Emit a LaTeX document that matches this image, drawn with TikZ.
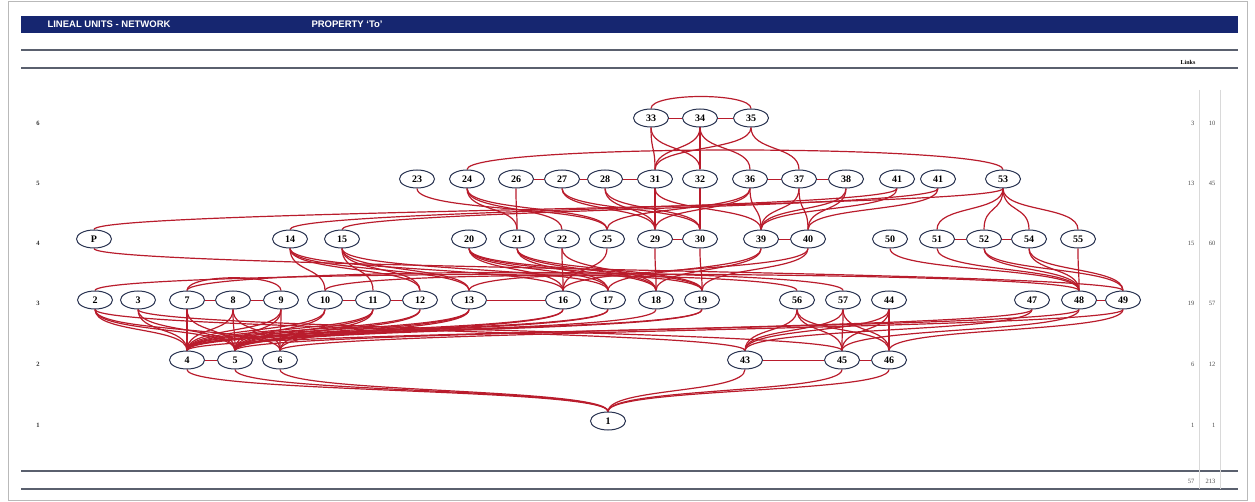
\documentclass[tikz,border=0pt]{standalone}
\usepackage{fontspec}
\setmainfont{Liberation Serif}
\newfontfamily\hdrfont{Liberation Sans}
\usetikzlibrary{shapes.geometric,backgrounds}
\definecolor{navybar}{RGB}{22,38,112}
\definecolor{linkred}{RGB}{185,28,44}
\definecolor{ovalline}{RGB}{40,50,80}
\definecolor{rulegrey}{RGB}{90,96,110}
% link helpers: downward link (south to north), arc over the top, straight side link
\newcommand{\lkdown}[3][24]{\draw[lk] (#2.south) .. controls +(0,#1) and +(0,-#1) .. (#3.north);}
\newcommand{\lkover}[3][22]{\draw[lk] (#2.north) .. controls +(0,-#1) and +(0,-#1) .. (#3.north);}
\newcommand{\lkside}[2]{\draw[lk, line width=0.9pt] (#1) -- (#2);}
\begin{document}
\begin{tikzpicture}[x=1pt,y=-1pt,
  nd/.style={ellipse, draw=ovalline, line width=1pt, fill=white,
    minimum width=35pt, minimum height=18pt, inner sep=0pt,
    font=\bfseries\fontsize{10}{10}\selectfont},
  lk/.style={draw=linkred, line width=1.2pt},
  rulefine/.style={draw=rulegrey, line width=1.3pt},
  lvl/.style={font=\bfseries\fontsize{6.5}{6.5}\selectfont, text=black!80},
  cnt/.style={font=\fontsize{6.5}{6.5}\selectfont, text=black!70, anchor=east},
  hdr/.style={anchor=west, text=white, font=\hdrfont\bfseries\fontsize{9.5}{9.5}\selectfont}]
\useasboundingbox (0,0) rectangle (1255,502);
\draw[gray!55, line width=1pt] (8,2) rectangle (1247,500);

% header band and rules
\fill[navybar] (21,16) rectangle (1238,33);
\node[hdr] (title) at (44,24.5) {LINEAL UNITS - NETWORK};
\node[hdr] (prop) at (308,24.5) {PROPERTY ‘To’};
\draw[rulefine] (21,50) -- (1238,50);
\draw[rulefine] (21,68) -- (1238,68);
\draw[rulefine] (21,471) -- (1238,471);
\draw[rulefine] (21,489) -- (1238,489);
\node[font=\bfseries\fontsize{6}{6}\selectfont] (links) at (1188,62) {Links};

% count columns
\draw[gray!30, line width=0.6pt] (1199,90) -- (1199,489);
\draw[gray!30, line width=0.6pt] (1220,90) -- (1220,489);

% level labels and counts
\foreach \lv/\yy/\na/\nb in {6/123/3/10, 5/183/13/45, 4/243/15/60, 3/303/19/57, 2/364/6/12, 1/425/1/1}{
  \node[lvl] (lv\lv) at (38,\yy) {\lv};
  \node[cnt] (ca\lv) at (1198,\yy) {\na};
  \node[cnt] (cb\lv) at (1219,\yy) {\nb};
}
\node[cnt] (tota) at (1198,481) {57};
\node[cnt] (totb) at (1219,481) {213};

% level 6
\node[nd] (n33) at (651,118) {33};
\node[nd] (n34) at (700,118) {34};
\node[nd] (n35) at (751,118) {35};
% level 5
\node[nd] (n23) at (417,179) {23};
\node[nd] (n24) at (467,179) {24};
\node[nd] (n26) at (516,179) {26};
\node[nd] (n27) at (562,179) {27};
\node[nd] (n28) at (605,179) {28};
\node[nd] (n31) at (655,179) {31};
\node[nd] (n32) at (700,179) {32};
\node[nd] (n36) at (750,179) {36};
\node[nd] (n37) at (799,179) {37};
\node[nd] (n38) at (846,179) {38};
\node[nd] (n41a) at (897,179) {41};
\node[nd] (n41b) at (938,179) {41};
\node[nd] (n53) at (1003,179) {53};
% level 4
\node[nd] (nP) at (94,239) {P};
\node[nd] (n14) at (290,239) {14};
\node[nd] (n15) at (342,239) {15};
\node[nd] (n20) at (469,239) {20};
\node[nd] (n21) at (517,239) {21};
\node[nd] (n22) at (562,239) {22};
\node[nd] (n25) at (607,239) {25};
\node[nd] (n29) at (655,239) {29};
\node[nd] (n30) at (700,239) {30};
\node[nd] (n39) at (761,239) {39};
\node[nd] (n40) at (808,239) {40};
\node[nd] (n50) at (890,239) {50};
\node[nd] (n51) at (937,239) {51};
\node[nd] (n52) at (984,239) {52};
\node[nd] (n54) at (1029,239) {54};
\node[nd] (n55) at (1078,239) {55};
% level 3
\node[nd] (n2) at (95,300) {2};
\node[nd] (n3) at (138,300) {3};
\node[nd] (n7) at (187,300) {7};
\node[nd] (n8) at (233,300) {8};
\node[nd] (n9) at (281,300) {9};
\node[nd] (n10) at (325,300) {10};
\node[nd] (n11) at (373,300) {11};
\node[nd] (n12) at (420,300) {12};
\node[nd] (n13) at (469,300) {13};
\node[nd] (n16) at (563,300) {16};
\node[nd] (n17) at (608,300) {17};
\node[nd] (n18) at (656,300) {18};
\node[nd] (n19) at (702,300) {19};
\node[nd] (n56) at (797,300) {56};
\node[nd] (n57) at (843,300) {57};
\node[nd] (n44) at (889,300) {44};
\node[nd] (n47) at (1032,300) {47};
\node[nd] (n48) at (1079,300) {48};
\node[nd] (n49) at (1123,300) {49};
% level 2
\node[nd] (n4) at (187,360) {4};
\node[nd] (n5) at (235,360) {5};
\node[nd] (n6) at (280,360) {6};
\node[nd] (n43) at (745,360) {43};
\node[nd] (n45) at (842,360) {45};
\node[nd] (n46) at (889,360) {46};
% level 1
\node[nd] (n1) at (608,421) {1};

\begin{pgfonlayer}{background}
% links within a level
\lkside{n33}{n34} \lkside{n34}{n35}
\lkside{n26}{n27} \lkside{n27}{n28} \lkside{n28}{n31}
\lkside{n36}{n37} \lkside{n37}{n38}
\lkside{n29}{n30} \lkside{n39}{n40}
\lkside{n51}{n52} \lkside{n52}{n54}
\lkside{n7}{n8} \lkside{n8}{n9}
\lkside{n10}{n11} \lkside{n11}{n12}
\lkside{n13}{n16} \lkside{n48}{n49}
\lkside{n4}{n5} \lkside{n43}{n45} \lkside{n45}{n46}
\lkover[16]{n33}{n35}
\lkover[26]{n24}{n53}
\lkover[17]{n7}{n9}
\lkover[22]{n2}{n48}
\lkover[24]{n7}{n57}
\lkover[20]{n10}{n56}
\lkover[20]{n13}{n19}
% level 6 to 5
\lkdown{n33}{n31} \lkdown{n33}{n32} \lkdown{n34}{n31} \lkdown{n34}{n32}
\lkdown{n34}{n36} \lkdown{n35}{n31} \lkdown{n35}{n37}
% level 5 to 4
\lkdown{n23}{n25}
\lkdown{n24}{n21} \lkdown{n24}{n22} \lkdown{n24}{n25}
\lkdown{n26}{n21}
\lkdown{n27}{n29} \lkdown{n27}{n30}
\lkdown{n28}{n29} \lkdown{n28}{n30}
\lkdown{n31}{n29} \lkdown{n31}{n39}
\lkdown{n32}{n30}
\lkdown{n36}{n25} \lkdown{n36}{n39} \lkdown{n36}{n29}
\lkdown{n37}{n39} \lkdown{n37}{n40}
\lkdown{n38}{n39} \lkdown{n38}{n40}
\lkdown[20]{n41a}{n14} \lkdown{n41a}{n39}
\lkdown[20]{n41b}{n15} \lkdown{n41b}{n40}
\lkdown[20]{n53}{nP}
\lkdown{n53}{n51} \lkdown{n53}{n52} \lkdown{n53}{n54} \lkdown{n53}{n55}
% level 4 to 3
\lkdown[20]{nP}{n49}
\lkdown{n14}{n10} \lkdown{n14}{n12} \lkdown{n14}{n13} \lkdown{n14}{n16}
\lkdown{n15}{n11} \lkdown{n15}{n12} \lkdown{n15}{n13} \lkdown{n15}{n17}
\lkdown{n20}{n16} \lkdown{n20}{n17} \lkdown{n20}{n18} \lkdown{n20}{n19}
\lkdown{n21}{n17} \lkdown{n21}{n18} \lkdown{n21}{n19}
\lkdown{n22}{n16} \lkdown{n22}{n18}
\lkdown{n25}{n16}
\lkdown{n29}{n18} \lkdown{n30}{n19}
\lkdown{n39}{n17} \lkdown{n39}{n18}
\lkdown{n40}{n19} \lkdown{n40}{n16}
\lkdown{n50}{n48} \lkdown{n51}{n48} \lkdown{n52}{n48} \lkdown{n52}{n49}
\lkdown{n54}{n48} \lkdown{n54}{n49} \lkdown{n55}{n48}
% level 3 to 2
\lkdown{n2}{n4} \lkdown{n2}{n5} \lkdown{n2}{n6} \lkdown[20]{n2}{n43}
\lkdown{n3}{n4} \lkdown{n3}{n5} \lkdown[20]{n3}{n45}
\lkdown{n7}{n4} \lkdown{n7}{n5}
\lkdown{n8}{n4} \lkdown{n8}{n5} \lkdown{n8}{n6}
\lkdown{n9}{n4} \lkdown{n9}{n5} \lkdown{n9}{n6}
\lkdown{n10}{n4} \lkdown{n10}{n5}
\lkdown{n11}{n4} \lkdown{n11}{n5} \lkdown{n11}{n6}
\lkdown{n12}{n4} \lkdown{n12}{n5}
\lkdown{n13}{n4} \lkdown{n13}{n5} \lkdown{n13}{n6}
\lkdown{n16}{n4} \lkdown{n16}{n5}
\lkdown{n17}{n4} \lkdown{n17}{n5}
\lkdown{n18}{n5} \lkdown{n19}{n5} \lkdown{n19}{n4}
\lkdown{n56}{n43} \lkdown{n56}{n45} \lkdown{n56}{n46}
\lkdown{n57}{n43} \lkdown{n57}{n45} \lkdown{n57}{n46}
\lkdown{n44}{n43} \lkdown{n44}{n45} \lkdown{n44}{n46}
\lkdown{n47}{n43} \lkdown[20]{n47}{n5}
\lkdown{n48}{n45} \lkdown[20]{n48}{n4}
\lkdown{n49}{n46} \lkdown[20]{n49}{n6}
% level 2 to 1
\lkdown{n4}{n1} \lkdown{n5}{n1} \lkdown{n6}{n1}
\lkdown{n43}{n1} \lkdown{n45}{n1} \lkdown{n46}{n1}
\end{pgfonlayer}
\end{tikzpicture}
\end{document}
